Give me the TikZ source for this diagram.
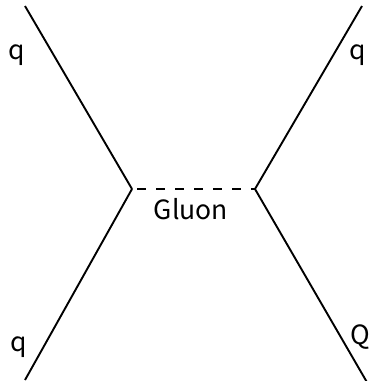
\documentclass[tikz,border=0pt]{standalone}
\usepackage{fontspec}
\setmainfont{Noto Sans CJK JP}
\begin{document}
\begin{tikzpicture}[x=1pt,y=-1pt,
  fermion/.style={line width=1.9pt,black},
  gluon/.style={line width=1.9pt,black,dash pattern=on 9pt off 10pt,dash phase=-5pt},
  lbl/.style={font=\fontsize{26.5}{30}\selectfont,inner sep=0pt,anchor=base west}]
\useasboundingbox (0,0) rectangle (369,381);
\clip (0,0) rectangle (369,381);
\coordinate (v1) at (132,189);
\coordinate (v2) at (255,189);
\coordinate (a) at (25,6);
\coordinate (b) at (25,380);
\coordinate (c) at (362,6);
\coordinate (d) at (368,384);
\draw[fermion] (a) -- (v1);
\draw[fermion] (v1) -- (b);
\draw[fermion] (c) -- (v2);
\draw[fermion] (v2) -- (d);
\draw[gluon] (v1) -- (v2);
\node[lbl] (l1) at (8,59) {q};
\node[lbl] (l2) at (349,59) {q};
\node[lbl] (l3) at (10,351) {q};
\node[lbl] (l4) at (350,344) {Q};
\node[font=\fontsize{26.5}{30}\selectfont,inner sep=0pt,anchor=base] (g) at (191,219) {Gluon};
\end{tikzpicture}
\end{document}
